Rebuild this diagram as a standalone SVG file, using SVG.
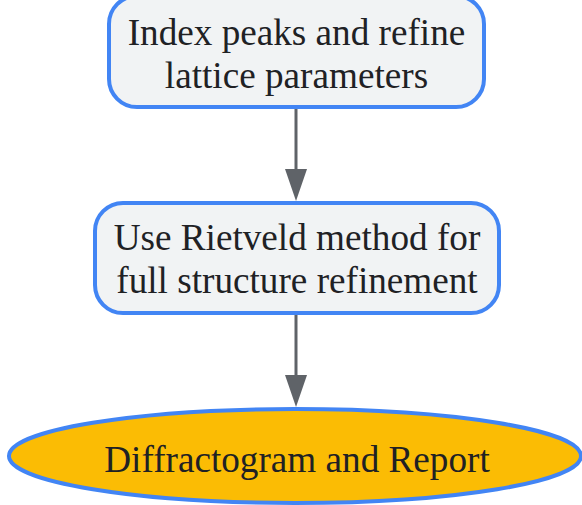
<svg xmlns="http://www.w3.org/2000/svg" width="582" height="505" viewBox="0 0 582 505">
<style>
.box{fill:#f1f3f4;stroke:#4285f4;stroke-width:4}
.end{fill:#fbbc04;stroke:#4285f4;stroke-width:4}
.t{font-family:"Liberation Serif","Times New Roman",serif;font-size:37.2px;fill:#202124;text-anchor:middle}
.edge{stroke:#5f6368;stroke-width:3;fill:none}
.head{fill:#5f6368}
</style>
<rect width="582" height="505" fill="#ffffff"/>
<g id="connectors">
<line class="edge" x1="296" y1="109" x2="296" y2="172"/>
<polygon class="head" points="285,169 307,169 296,201"/>
<line class="edge" x1="296" y1="315" x2="296" y2="378"/>
<polygon class="head" points="285,375 307,375 296,407"/>
</g>
<g id="node1">
<rect class="box" x="109" y="-4" width="375" height="111" rx="28"/>
<text class="t" x="296.5" y="45">Index peaks and refine</text>
<text class="t" x="296.5" y="88">lattice parameters</text>
</g>
<g id="node2">
<rect class="box" x="95" y="203" width="404" height="110" rx="28"/>
<text class="t" x="297" y="250">Use Rietveld method for</text>
<text class="t" x="297" y="293">full structure refinement</text>
</g>
<g id="node3">
<ellipse class="end" cx="295" cy="456" rx="286" ry="47"/>
<text class="t" x="297" y="472">Diffractogram and Report</text>
</g>
</svg>
